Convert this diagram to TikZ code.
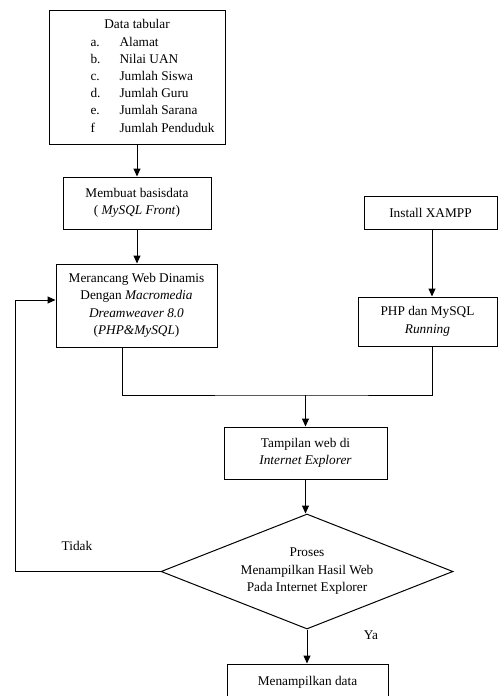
\documentclass[tikz,border=0pt]{standalone}
\usepackage{fontspec}
\setmainfont{Liberation Serif}
\usetikzlibrary{arrows.meta,shapes.geometric,calc}
\begin{document}
\begin{tikzpicture}[x=1pt,y=-1pt,
  every node/.style={font=\fontsize{13.3}{17.5}\selectfont},
  box/.style={draw, line width=1pt, align=center, inner sep=0pt},
  arr/.style={line width=1pt, -{Triangle[length=8pt,width=7pt]}},
  ln/.style={line width=1pt}]
\useasboundingbox (0,0) rectangle (498,696);
\clip (0,0) rectangle (498,696);

\node[box, minimum width=176pt, minimum height=134pt] (data) at (137,77)
  {\fontsize{13.3}{17.2}\selectfont
   \begin{tabular}{@{\hspace{31pt}}p{29pt}@{}l@{}}
   \multicolumn{2}{@{}c@{}}{Data tabular}\\
   a. & Alamat\\
   b. & Nilai UAN\\
   c. & Jumlah Siswa\\
   d. & Jumlah Guru\\
   e. & Jumlah Sarana\\
   f  & Jumlah Penduduk
   \end{tabular}};

\node[box, minimum width=148pt, minimum height=52pt] (mk) at (137,203)
  {Membuat basisdata\\( \textit{MySQL Front})};

\node[box, minimum width=161pt, minimum height=83pt] (mr) at (136.5,305.5)
  {Merancang Web Dinamis\\Dengan \textit{Macromedia}\\\textit{Dreamweaver 8.0}\\(\textit{PHP\&MySQL})};

\node[box, minimum width=133pt, minimum height=33pt] (inst) at (430.5,212.5)
  {Install XAMPP};

\node[box, minimum width=139pt, minimum height=49pt] (php) at (427.5,321.5)
  {PHP dan MySQL\\\textit{Running}};

\node[box, minimum width=163pt, minimum height=52pt] (tw) at (305.5,453)
  {Tampilan web di\\\textit{Internet Explorer}};

\node[draw, diamond, aspect=2.54, inner sep=0pt, minimum width=292pt,
      minimum height=115pt, line width=1pt, align=center] (dia) at (307,571.5)
  {Proses\\Menampilkan Hasil Web\\Pada Internet Explorer};

\node[box, minimum width=161pt, minimum height=52pt] (out) at (307.5,690)
  {Menampilkan data\\\mbox{}};

\node (tidak) at (77,546) {Tidak};
\node (ya) at (371,635) {Ya};

\coordinate (j) at (305.5,395);
\coordinate (lp) at (15,300);
\coordinate (ia) at ($(inst.south)+(1.5,0)$);
\coordinate (pa) at ($(php.south)+(4.5,0)$);
\coordinate (ma) at ($(mr.south)+(-14.5,0)$);

\draw[arr] (data.south) -- (mk.north);
\draw[arr] (mk.south) -- (mk.south |- mr.north);
\draw[arr] (ia) -- (ia |- php.north);
\draw[ln] (ma) |- (j) -| (pa);
\draw[arr] (j) -- (j |- tw.north);
\draw[arr] (tw.south) -- (tw.south |- dia.north);
\draw[arr] (dia.west) -| (lp) -- (lp -| mr.west);
\draw[arr] (dia.south) -- (dia.south |- out.north);
\end{tikzpicture}
\end{document}
